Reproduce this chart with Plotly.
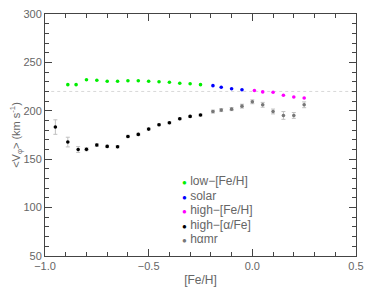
import plotly.graph_objects as go

# ---- data ----
low_x = [-0.89, -0.85, -0.80, -0.75, -0.70, -0.65, -0.60, -0.55, -0.50, -0.45, -0.40, -0.35, -0.30, -0.25]
low_y = [227, 227, 232, 231.5, 230.5, 230.5, 231, 231, 230.5, 230, 229.5, 228.5, 228, 227]

sol_x = [-0.19, -0.15, -0.10, -0.05]
sol_y = [226, 224.3, 222.8, 221.8]

hfe_x = [0.01, 0.05, 0.10, 0.15, 0.20, 0.25]
hfe_y = [221, 219.5, 219.2, 216, 214.3, 213.2]

ha_x = [-0.95, -0.89, -0.84, -0.80, -0.75, -0.70, -0.65, -0.60, -0.55, -0.50, -0.45, -0.40, -0.35, -0.30, -0.25]
ha_y = [183.2, 167.7, 160, 160.2, 164.6, 163.2, 162.9, 173.5, 175.6, 181.1, 185.6, 187.6, 191.8, 194.2, 195.6]
ha_err = [7.5, 5, 3, 1.5, 1.5, 1.2, 1.2, 1.2, 1.2, 1, 1, 1, 1, 1, 1]

hamr_x = [-0.19, -0.15, -0.10, -0.05, 0.00, 0.05, 0.10, 0.15, 0.20, 0.25]
hamr_y = [199.2, 200.7, 201.7, 204.8, 209.3, 206.2, 199.3, 195.2, 195.2, 206.2]
hamr_err = [1.5, 1.5, 1.5, 2, 2, 2.5, 2.5, 4, 3, 3]

ref_v = 220

legend_labels = ["low−[Fe/H]", "solar", "high−[Fe/H]", "high−[α/Fe]", "hαmr"]
legend_colors = ["#00ee00", "#0000ff", "#ff00ff", "#000000", "#777777"]

FONT = "Liberation Sans"
TXT = "#666666"
AX = "#444444"

fig = go.Figure()

fig.add_trace(go.Scatter(x=[-0.97, 0.5], y=[ref_v, ref_v], mode="lines",
                         line=dict(color="#d8d8d8", width=1, dash="dot"), hoverinfo="skip"))

def pts(x, y, color, err=None):
    kw = {}
    if err is not None:
        kw["error_y"] = dict(type="data", array=err, visible=True, color="#c0c0c0", thickness=1, width=2)
    fig.add_trace(go.Scatter(x=x, y=y, mode="markers",
                             marker=dict(color=color, size=3.6, line=dict(width=0)), **kw))

pts(ha_x, ha_y, legend_colors[3], ha_err)
pts(hamr_x, hamr_y, legend_colors[4], hamr_err)
pts(low_x, low_y, legend_colors[0])
pts(sol_x, sol_y, legend_colors[1])
pts(hfe_x, hfe_y, legend_colors[2])

# manual legend
for i, (lab, col) in enumerate(zip(legend_labels, legend_colors)):
    fig.add_annotation(xref="paper", yref="paper", x=0.435, y=0.31 - i * 0.06,
                       xanchor="left", yanchor="middle", showarrow=False,
                       text=f"<span style='color:{col};font-size:8px'>●</span> {lab}",
                       font=dict(family=FONT, size=12, color=TXT))

axis_common = dict(showline=True, linecolor=AX, linewidth=1, mirror="allticks",
                   ticks="inside", ticklen=7, tickcolor=AX, showgrid=False, zeroline=False,
                   automargin=False, ticklabeloverflow="allow",
                   tickfont=dict(family=FONT, size=11, color=TXT))

fig.update_xaxes(range=[-1.0, 0.5], dtick=0.5, tickformat=".1f",
                 minor=dict(dtick=0.1, ticks="inside", ticklen=4, tickcolor=AX),
                 title=dict(text="[Fe/H]", font=dict(family=FONT, size=12, color=TXT), standoff=4),
                 **axis_common)
fig.update_yaxes(range=[50, 300], dtick=50,
                 minor=dict(dtick=10, ticks="inside", ticklen=4, tickcolor=AX),
                 title=dict(text="&lt;V<sub>φ</sub>&gt; (km s<sup>-1</sup>)",
                            font=dict(family=FONT, size=11, color=TXT), standoff=11),
                 **axis_common)

# page body has an 8px default margin; compensate so the plot lands where the reference has it
fig.update_layout(width=366, height=283, margin=dict(l=37, r=18, t=6, b=35),
                  showlegend=False, plot_bgcolor="white", paper_bgcolor="white")

fig.write_html("out.html")
